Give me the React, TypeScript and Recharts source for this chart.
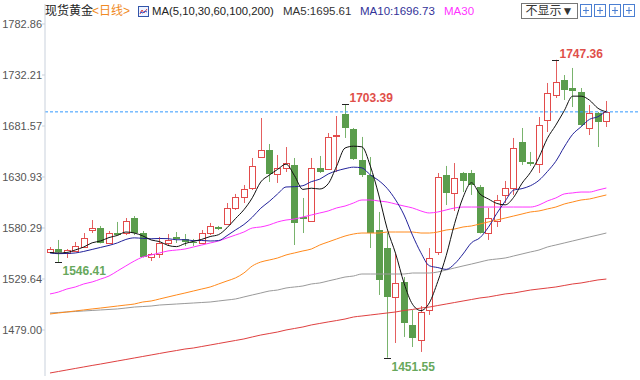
import { ComposedChart, Bar, Line, XAxis, YAxis, ReferenceLine, ReferenceDot } from 'recharts'

// daily candles
const opens = [
  1556.5, 1559.4, 1555.5, 1557.5, 1561.4, 1578.3, 1580.3, 1565.4, 1575.3, 1575.3,
  1590.2, 1575.3, 1551.5, 1554.5, 1565.4, 1571.4, 1569.4, 1566.4, 1565.4, 1575.3,
  1581.3, 1584.3, 1600.2, 1611.1, 1620.0, 1650.8, 1657.8, 1633.9, 1639.9, 1642.9,
  1591.2, 1587.2, 1639.9, 1638.9, 1671.6, 1693.5, 1678.6, 1647.8, 1632.9, 1578.3,
  1560.4, 1511.8, 1526.7, 1484.0, 1469.1, 1498.9, 1556.4, 1632.9, 1615.1, 1634.9,
  1634.9, 1621.0, 1575.3, 1587.2, 1613.1, 1620.0, 1665.7, 1645.8, 1643.9, 1687.5,
  1712.4, 1727.3, 1719.3, 1715.3, 1679.6, 1694.5, 1686.5,
]
const highs = [
  1561.4, 1568.4, 1559.4, 1566.4, 1575.3, 1588.2, 1582.3, 1577.3, 1586.3, 1590.2,
  1592.2, 1577.3, 1555.5, 1571.4, 1574.3, 1576.3, 1574.3, 1569.4, 1578.3, 1585.3,
  1582.3, 1605.1, 1614.1, 1623.0, 1649.8, 1689.5, 1663.7, 1652.8, 1660.7, 1649.8,
  1610.1, 1649.8, 1651.8, 1674.6, 1691.5, 1703.39, 1679.6, 1670.7, 1650.8, 1596.2,
  1575.3, 1555.5, 1531.6, 1498.9, 1502.8, 1560.4, 1634.9, 1641.9, 1644.8, 1635.9,
  1637.9, 1623.0, 1600.2, 1613.1, 1627.0, 1669.7, 1679.6, 1655.8, 1690.5, 1724.3,
  1747.36, 1732.2, 1739.2, 1719.3, 1702.4, 1695.5, 1706.4,
]
const lows = [
  1555.5, 1546.41, 1550.5, 1556.5, 1560.4, 1575.3, 1565.0, 1564.9, 1572.8, 1573.3,
  1573.3, 1551.0, 1547.5, 1550.5, 1562.4, 1565.4, 1562.4, 1562.4, 1564.4, 1573.3,
  1578.3, 1583.3, 1598.2, 1605.1, 1618.0, 1649.8, 1626.0, 1625.0, 1635.9, 1563.4,
  1575.3, 1586.3, 1634.9, 1637.9, 1635.9, 1669.7, 1647.8, 1630.9, 1560.4, 1513.8,
  1451.55, 1466.1, 1472.1, 1462.1, 1457.2, 1494.0, 1553.5, 1603.1, 1597.2, 1616.0,
  1613.1, 1574.8, 1568.4, 1581.3, 1605.1, 1613.1, 1642.9, 1641.9, 1634.9, 1675.6,
  1709.4, 1707.4, 1700.4, 1681.6, 1672.6, 1660.7, 1680.6,
]
const closes = [
  1559.4, 1556.5, 1558.4, 1562.4, 1570.4, 1580.3, 1565.4, 1575.3, 1573.3, 1587.2,
  1575.3, 1551.5, 1554.5, 1565.4, 1568.4, 1569.4, 1566.4, 1565.4, 1575.3, 1582.3,
  1579.3, 1600.2, 1611.1, 1619.0, 1641.9, 1657.8, 1633.9, 1639.9, 1644.8, 1585.3,
  1589.2, 1639.9, 1635.9, 1670.7, 1672.6, 1679.6, 1648.8, 1632.9, 1575.3, 1528.7,
  1511.8, 1525.7, 1485.9, 1471.1, 1496.9, 1550.5, 1630.9, 1615.1, 1629.9, 1627.0,
  1623.0, 1575.3, 1590.2, 1608.1, 1620.0, 1659.7, 1645.8, 1643.9, 1682.6, 1714.3,
  1725.3, 1717.3, 1716.3, 1682.6, 1694.5, 1685.5, 1695.6,
]

// moving averages
const ma5 = [
  1556.0, 1555.5, 1556.0, 1558.5, 1561.4, 1565.6, 1567.4, 1570.8, 1572.9, 1576.3,
  1575.3, 1572.5, 1568.4, 1566.8, 1563.0, 1561.8, 1564.8, 1567.0, 1569.0, 1571.8,
  1573.7, 1580.5, 1589.6, 1598.4, 1610.3, 1626.0, 1632.7, 1638.5, 1643.7, 1632.3,
  1618.6, 1619.8, 1619.0, 1624.2, 1641.7, 1659.7, 1661.5, 1660.9, 1641.8, 1613.1,
  1579.5, 1554.9, 1525.5, 1504.6, 1498.3, 1506.0, 1527.1, 1552.9, 1584.7, 1610.7,
  1625.2, 1614.1, 1609.1, 1604.7, 1603.3, 1610.7, 1624.8, 1635.5, 1650.4, 1669.3,
  1682.4, 1696.7, 1711.2, 1711.2, 1707.2, 1699.2, 1695.61,
]
const ma10 = [
  1555.5, 1554.8, 1555.0, 1555.5, 1557.0, 1559.0, 1561.0, 1563.0, 1565.5, 1568.9,
  1570.5, 1570.0, 1569.6, 1569.9, 1569.7, 1568.6, 1568.7, 1567.7, 1567.9, 1567.4,
  1567.8, 1572.7, 1578.3, 1583.7, 1591.0, 1599.9, 1606.6, 1614.1, 1621.0, 1621.3,
  1622.3, 1626.3, 1628.8, 1633.9, 1637.0, 1639.2, 1640.7, 1640.0, 1633.0, 1627.4,
  1619.6, 1608.2, 1593.2, 1573.2, 1555.7, 1542.8, 1541.0, 1539.2, 1544.7, 1554.5,
  1565.6, 1570.6, 1581.0, 1594.7, 1607.0, 1617.9, 1619.4, 1622.3, 1627.6, 1636.3,
  1646.5, 1660.7, 1673.3, 1680.8, 1688.2, 1690.8, 1696.73,
]
const ma30 = [
  1514.8, 1516.7, 1519.7, 1521.7, 1524.7, 1526.7, 1529.6, 1532.6, 1537.6, 1542.6,
  1547.5, 1551.5, 1553.5, 1555.5, 1557.5, 1558.4, 1559.4, 1561.4, 1563.4, 1565.4,
  1567.4, 1570.4, 1573.3, 1576.3, 1580.3, 1581.3, 1583.3, 1586.3, 1588.2, 1589.2,
  1591.2, 1593.2, 1595.2, 1597.2, 1600.2, 1602.1, 1605.1, 1608.1, 1608.1, 1607.1,
  1606.1, 1604.1, 1602.1, 1600.2, 1597.2, 1595.2, 1596.2, 1598.2, 1600.2, 1601.1,
  1601.1, 1601.1, 1601.1, 1601.1, 1601.1, 1601.1, 1601.1, 1601.1, 1603.1, 1607.1,
  1610.1, 1614.1, 1615.1, 1616.0, 1616.0, 1618.0, 1620.0,
]
const ma60 = [
  1494.9, 1495.9, 1496.9, 1497.9, 1498.9, 1499.9, 1500.8, 1501.8, 1502.8, 1503.8,
  1504.8, 1506.8, 1507.8, 1509.8, 1511.8, 1513.8, 1515.7, 1517.7, 1519.7, 1521.7,
  1524.7, 1527.7, 1530.7, 1535.6, 1542.6, 1546.5, 1548.5, 1550.5, 1553.5, 1555.5,
  1557.5, 1559.4, 1563.4, 1566.4, 1569.4, 1572.3, 1574.3, 1575.3, 1575.3, 1575.3,
  1576.3, 1576.3, 1576.3, 1576.3, 1575.3, 1575.3, 1576.3, 1578.3, 1579.3, 1581.3,
  1582.3, 1584.3, 1586.3, 1588.2, 1590.2, 1592.2, 1594.2, 1596.2, 1597.2, 1599.2,
  1601.1, 1604.1, 1606.1, 1608.1, 1609.1, 1611.1, 1613.1,
]
const ma100 = [
  1495.9, 1496.4, 1496.9, 1497.4, 1497.9, 1498.4, 1498.9, 1499.4, 1499.9, 1500.8,
  1501.8, 1502.3, 1502.8, 1503.8, 1504.3, 1504.8, 1505.3, 1505.8, 1506.3, 1506.8,
  1507.8, 1508.8, 1509.8, 1511.8, 1513.8, 1515.7, 1517.7, 1518.7, 1520.7, 1521.7,
  1522.7, 1524.7, 1525.7, 1527.7, 1529.6, 1531.6, 1532.6, 1534.6, 1534.6, 1534.6,
  1534.6, 1534.6, 1534.6, 1535.6, 1535.6, 1535.6, 1536.6, 1538.6, 1540.6, 1542.6,
  1544.5, 1546.5, 1548.5, 1549.5, 1550.5, 1552.5, 1554.5, 1556.5, 1558.4, 1561.4,
  1563.4, 1565.4, 1567.4, 1569.4, 1571.4, 1573.3, 1575.3,
]
const ma200 = [
  1436.3, 1437.8, 1439.3, 1440.8, 1442.3, 1443.8, 1445.2, 1446.7, 1448.2, 1449.7,
  1451.2, 1452.7, 1454.2, 1455.7, 1457.2, 1458.6, 1460.1, 1461.1, 1462.6, 1464.1,
  1465.6, 1467.1, 1468.6, 1470.1, 1472.1, 1474.0, 1475.5, 1477.0, 1479.0, 1480.5,
  1482.0, 1484.0, 1485.5, 1487.0, 1488.4, 1489.9, 1491.9, 1492.9, 1493.9, 1494.9,
  1495.9, 1496.9, 1498.4, 1499.4, 1500.8, 1501.8, 1503.3, 1504.8, 1506.3, 1507.8,
  1509.3, 1510.8, 1511.8, 1513.3, 1514.8, 1515.7, 1517.2, 1518.7, 1519.7, 1520.7,
  1521.7, 1523.2, 1524.7, 1525.7, 1527.2, 1528.7, 1529.6,
]

const yTicks = [1479.0, 1529.64, 1580.29, 1630.93, 1681.57, 1732.21, 1782.86]

// marked highs / lows: candle index, price, kind
const extremes = [
  { i: 1, value: 1546.41, kind: 'low' },
  { i: 35, value: 1703.39, kind: 'high' },
  { i: 40, value: 1451.55, kind: 'low' },
  { i: 60, value: 1747.36, kind: 'high' },
]

const TITLE = '现货黄金'
const PERIOD = '<日线>'
const MA_LIST = 'MA(5,10,30,60,100,200)'
const MA5_TEXT = 'MA5:1695.61'
const MA10_TEXT = 'MA10:1696.73'
const MA30_TEXT = 'MA30'
const SELECT_TEXT = '不显示▼'

const rows = opens.map((open, i) => ({
  i,
  open,
  high: highs[i],
  low: lows[i],
  close: closes[i],
  range: [lows[i], highs[i]],
  ma5: ma5[i],
  ma10: ma10[i],
  ma30: ma30[i],
  ma60: ma60[i],
  ma100: ma100[i],
  ma200: ma200[i],
}))

const C = {
  up: '#e24a4a',
  upWick: '#e46060',
  down: '#5b9d4d',
  downWick: '#79b36d',
  ma5: '#111111',
  ma10: '#22229a',
  ma30: '#ff33ff',
  ma60: '#ff8a1c',
  ma100: '#9a9a9a',
  ma200: '#df4040',
  last: '#3399ff',
  axis: '#c9d1dc',
  tick: '#555555',
  hiText: '#df4f4a',
  loText: '#67a85c',
}

const SANS = "'Liberation Sans', Arial, 'Noto Sans CJK SC', sans-serif"

function Candle(props: any) {
  const { x, y, width, height } = props
  const d = props.payload ?? props
  const top = Math.min(y, y + height)
  const bot = Math.max(y, y + height)
  const span = d.high - d.low || 1
  const py = (v: number) => bot - ((v - d.low) / span) * (bot - top)
  const cx = Math.floor(x + width / 2) + 0.5
  const up = d.close >= d.open
  let bTop = Math.round(Math.min(py(d.open), py(d.close)))
  let bBot = Math.round(Math.max(py(d.open), py(d.close)))
  if (bBot - bTop < 1) bBot = bTop + 1
  if (up) {
    return (
      <g>
        <line x1={cx} x2={cx} y1={top} y2={bTop + 0.5} stroke={C.upWick} />
        <line x1={cx} x2={cx} y1={bBot + 0.5} y2={bot} stroke={C.upWick} />
        <rect x={cx - 3} y={bTop + 0.5} width={6} height={bBot - bTop} fill="#fff" stroke={C.up} />
      </g>
    )
  }
  return (
    <g>
      <line x1={cx} x2={cx} y1={top} y2={bot} stroke={C.downWick} />
      <rect x={cx - 3.5} y={bTop} width={7} height={Math.max(1, bBot - bTop)} fill={C.down} />
    </g>
  )
}

function Extreme(props: any, value: number, kind: string) {
  const cx = Math.floor(props.cx) + 0.5
  const cy = Math.round(props.cy) + 0.5
  const high = kind === 'high'
  return (
    <g>
      <line x1={cx - 3.5} x2={cx + 3.5} y1={cy} y2={cy} stroke="#222" />
      <text
        x={cx + 4}
        y={high ? cy - 3 : cy + 12.5}
        fill={high ? C.hiText : C.loText}
        fontSize={12}
        fontWeight="bold"
        fontFamily={SANS}
      >
        {value.toFixed(2)}
      </text>
    </g>
  )
}

const head = (left: number, color: string, text: string, size = 12) => (
  <span style={{ position: 'absolute', left, top: 3, color, fontSize: size, lineHeight: '16px', whiteSpace: 'nowrap' }}>
    {text}
  </span>
)

function ToolIcon({ left }: { left: number }) {
  return (
    <svg style={{ position: 'absolute', left, top: 4 }} width={12} height={13}>
      <rect x={0.5} y={0.5} width={11} height={12} fill="#fff" stroke="#4b7fd2" />
      <line x1={3} x2={9} y1={6.5} y2={6.5} stroke="#4b7fd2" />
      <line x1={6} x2={6} y1={3} y2={10} stroke="#4b7fd2" />
    </svg>
  )
}

export default function App() {
  const last = closes[closes.length - 1]
  return (
    <div style={{ position: 'absolute', left: 0, top: 0, width: 640, height: 380, background: '#fff', fontFamily: SANS }}>
      <ComposedChart width={640} height={380} data={rows} margin={{ top: 4, right: 0, bottom: 4, left: 0 }}>
        <XAxis dataKey="i" type="number" domain={[-0.593, 69.99]} hide allowDataOverflow />
        <YAxis
          domain={[1433.32, 1802.72]}
          ticks={yTicks}
          interval={0}
          allowDataOverflow
          width={45}
          tickSize={3}
          tickMargin={0}
          tickFormatter={(v: number) => v.toFixed(2)}
          tick={{ fill: C.tick, fontSize: 11, fontFamily: SANS }}
          axisLine={{ stroke: C.axis }}
          tickLine={{ stroke: C.axis }}
        />
        <ReferenceLine y={last} stroke={C.last} strokeDasharray="3 2" />
        <Line dataKey="ma200" type="monotone" stroke={C.ma200} strokeWidth={1} dot={false} isAnimationActive={false} />
        <Line dataKey="ma100" type="monotone" stroke={C.ma100} strokeWidth={1} dot={false} isAnimationActive={false} />
        <Line dataKey="ma60" type="monotone" stroke={C.ma60} strokeWidth={1} dot={false} isAnimationActive={false} />
        <Line dataKey="ma30" type="monotone" stroke={C.ma30} strokeWidth={1} dot={false} isAnimationActive={false} />
        <Line dataKey="ma10" type="monotone" stroke={C.ma10} strokeWidth={1} dot={false} isAnimationActive={false} />
        <Line dataKey="ma5" type="monotone" stroke={C.ma5} strokeWidth={1} dot={false} isAnimationActive={false} />
        <Bar dataKey="range" barSize={7} isAnimationActive={false} shape={(p: any) => <Candle {...p} />} />
        {extremes.map((e) => (
          <ReferenceDot
            key={e.i}
            x={e.i}
            y={e.value}
            r={0}
            shape={(p: any) => Extreme(p, e.value, e.kind)}
          />
        ))}
      </ComposedChart>

      {head(45, '#222', TITLE)}
      {head(92, '#f08a24', PERIOD)}
      <svg style={{ position: 'absolute', left: 138, top: 6 }} width={11} height={11}>
        <rect x={0.5} y={0.5} width={10} height={10} fill="#eef3ff" stroke="#3355aa" />
        <polyline points="2,8 4,4 6,7 9,3" fill="none" stroke="#e04040" />
        <polyline points="2,6 5,7 7,5 9,6" fill="none" stroke="#3355cc" />
      </svg>
      {head(152, '#222', MA_LIST, 11.3)}
      {head(283, '#333', MA5_TEXT, 11.5)}
      {head(360, '#333399', MA10_TEXT, 11.5)}
      {head(444, '#ff33ff', MA30_TEXT, 11.5)}
      <div
        style={{
          position: 'absolute', left: 521, top: 3, width: 55, height: 14, border: '1px solid #777',
          fontSize: 12, lineHeight: '14px', color: '#333', textAlign: 'center', background: '#fff',
        }}
      >
        {SELECT_TEXT}
      </div>
      <ToolIcon left={580} />
      <ToolIcon left={594} />
      <ToolIcon left={609} />
      <ToolIcon left={623} />
    </div>
  )
}
